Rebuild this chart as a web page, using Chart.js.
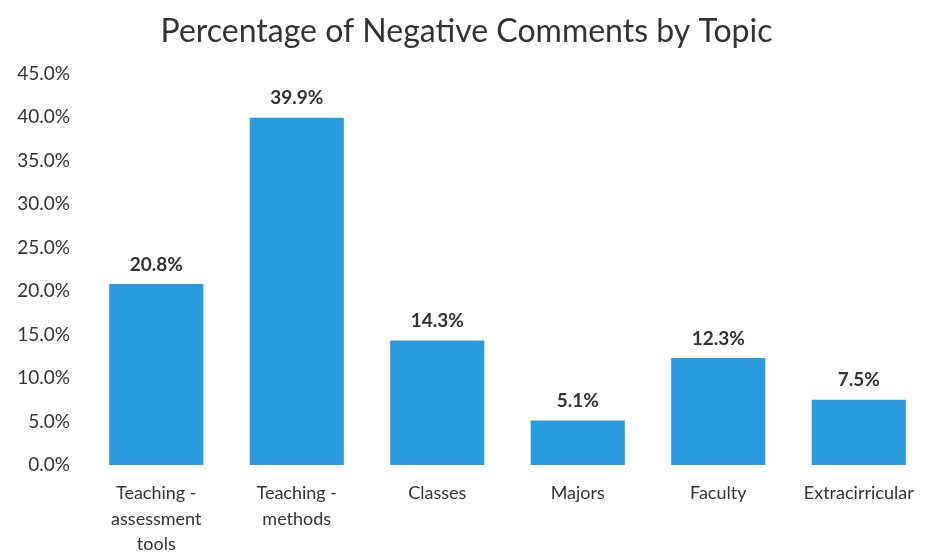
<!DOCTYPE html>
<html><head><meta charset="utf-8">
<script src="https://cdn.jsdelivr.net/npm/chart.js@4/dist/chart.umd.min.js"></script>
<style>html,body{margin:0;padding:0;background:#fff}#wrap{width:931px;height:560px}</style>
</head><body><div id="wrap"><canvas id="c"></canvas></div>
<script>
const categories = [["Teaching -","assessment","tools"],["Teaching -","methods"],"Classes","Majors","Faculty","Extracirricular"];
const values = [20.8, 39.9, 14.3, 5.1, 12.3, 7.5];
const valueLabels = ["20.8%","39.9%","14.3%","5.1%","12.3%","7.5%"];
const yMax = 45, yStep = 5;

const FONT = "Lato, 'Open Sans', sans-serif";
const TXT = '#333333';

const labelPlugin = {
  id:'vlabels',
  afterDatasetsDraw(chart){
    const ctx = chart.ctx;
    const meta = chart.getDatasetMeta(0);
    ctx.save();
    ctx.font = "bold 19px " + FONT;
    ctx.fillStyle = TXT;
    ctx.textAlign = 'center';
    ctx.textBaseline = 'bottom';
    meta.data.forEach((bar,i)=>{
      ctx.fillText(valueLabels[i], bar.x, bar.y - 10);
    });
    ctx.restore();
  }
};

new Chart(document.getElementById('c'), {
  type:'bar',
  data:{labels:categories, datasets:[{data:values, backgroundColor:'#2b9be0', borderWidth:0, barPercentage:0.67, categoryPercentage:1.0}]},
  options:{
    responsive:true, maintainAspectRatio:false, animation:false,
    layout:{padding:{left:4,right:2,top:0,bottom:0}},
    plugins:{
      legend:{display:false},
      tooltip:{enabled:false},
      title:{display:true, text:'Percentage of Negative Comments by Topic', color:TXT,
        font:{family:FONT, size:32, weight:'normal'}, padding:{top:12,bottom:23}}
    },
    scales:{
      x:{grid:{display:false, drawTicks:false}, border:{display:false},
        afterFit(s){ s.height = 95; },
        ticks:{color:TXT, font:{family:FONT,size:18, lineHeight:1.4}, padding:16, maxRotation:0, autoSkip:false}},
      y:{min:0,max:yMax, grid:{display:false, drawTicks:false}, border:{display:false},
        afterFit(s){ s.width = 82; },
        ticks:{stepSize:yStep, color:TXT, font:{family:FONT,size:19}, padding:16,
          callback:v=>v.toFixed(1)+'%'}}
    }
  },
  plugins:[labelPlugin]
});
</script></body></html>
